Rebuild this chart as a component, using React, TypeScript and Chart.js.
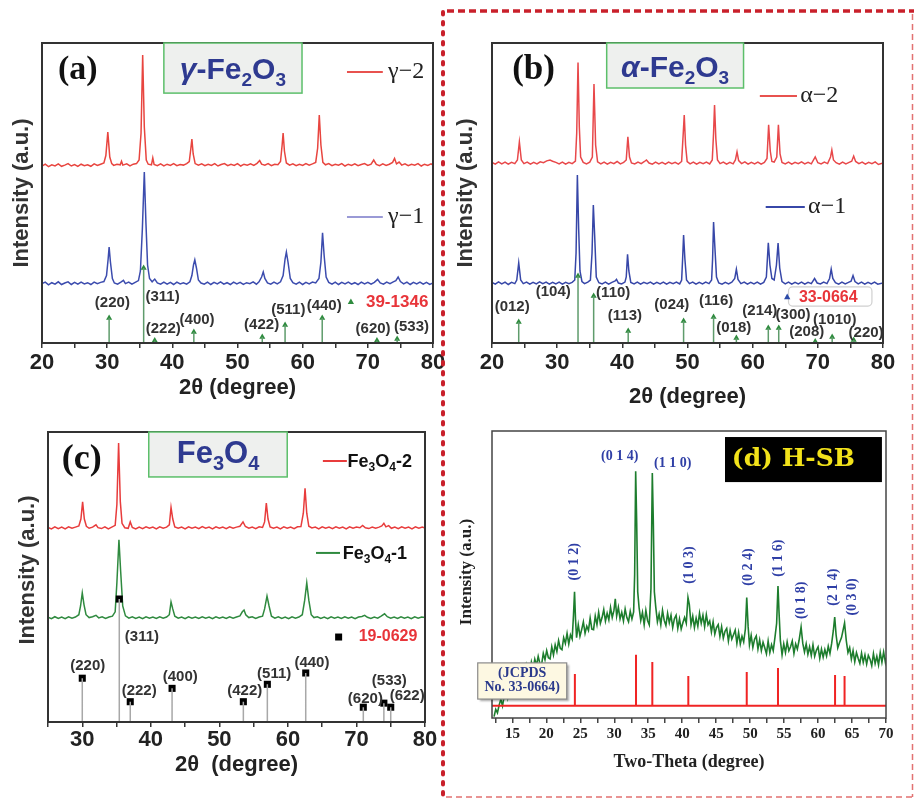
import React, { useEffect, useRef } from 'react';
import { Chart, registerables } from 'chart.js';
Chart.register(...registerables);

const W = 914;
const H = 798;
const XH = 30;
const SANS = '"Liberation Sans", Arial, sans-serif';
const SERIF = '"Liberation Serif", "Times New Roman", serif';
const DSERIF = '"DejaVu Serif", serif';

type P = [number, number];

// ---------------- Panel (a) gamma-Fe2O3 ----------------
const A_X_RANGE = [20, 80];
const A_TICKS = [20, 25, 30, 35, 40, 45, 50, 55, 60, 65, 70, 75, 80];
const A_GAMMA2: P[] = [[20,59],[20.5,59.6],[21,58.8],[21.5,59.4],[22,59],[22.5,59.7],[23,58.9],[23.5,59.3],[24,59.8],[24.5,59],[25,59.5],[25.5,58.9],[26,59.6],[26.5,59.1],[27,59.4],[27.5,58.9],[28,59.7],[28.5,59.2],[29,59.6],[29.5,60],[29.8,62.5],[30.1,70.3],[30.4,62],[30.7,59.8],[31,59.2],[31.5,59.6],[32,59.4],[32.2,60.6],[32.4,59.3],[33,59.7],[33.5,59],[34,59.6],[34.5,59.8],[34.9,61],[35.2,70],[35.45,96],[35.7,72],[36,61],[36.3,59.6],[36.8,59.4],[37,61.7],[37.2,59.5],[37.7,59.1],[38.2,59.7],[38.7,59],[39.2,59.6],[39.7,59.2],[40.2,59.8],[40.7,59.1],[41.2,59.5],[41.7,59.3],[42.2,59.8],[42.6,60.5],[42.85,65],[43,68],[43.2,63],[43.5,59.8],[44,59.3],[44.5,59.7],[45,59.1],[45.5,59.6],[46,59.2],[46.5,59.8],[47,59],[47.5,59.5],[48,59.8],[48.5,59.1],[49,59.6],[49.5,59.2],[50,59.8],[50.5,59],[51,59.6],[51.5,59.3],[52,59.7],[52.5,59.2],[53,59.9],[53.4,60.8],[53.7,59.6],[54.2,59.3],[54.7,59.8],[55.2,59.1],[55.7,59.6],[56.2,59.4],[56.6,60.5],[56.85,66],[57,70],[57.2,64],[57.5,60],[58,59.3],[58.5,59.7],[59,59.1],[59.5,59.6],[60,59.2],[60.5,59.8],[61,59.3],[61.5,59.7],[62,60.2],[62.3,65],[62.55,76],[62.8,66],[63.1,60.2],[63.5,59.4],[64,59.8],[64.5,59.1],[65,59.6],[65.5,59.3],[66,59.8],[66.5,59],[67,59.6],[67.5,59.2],[68,59.7],[68.5,59.1],[69,59.5],[69.5,59.8],[70,59.2],[70.5,59.6],[70.9,61],[71.3,59.5],[71.8,59.1],[72.3,59.7],[72.8,59.2],[73.3,59.6],[73.8,60.2],[74.1,61.5],[74.4,59.7],[74.8,60.3],[75.2,59.3],[75.7,59.7],[76.2,59.1],[76.7,59.6],[77.2,59.3],[77.7,59.8],[78.2,59],[78.7,59.6],[79.2,59.2],[79.7,59.7],[80,59.3]];
const A_GAMMA1: P[] = [[20,19.8],[20.5,20.3],[21,19.4],[21.5,20.1],[22,19.6],[22.5,20.4],[23,19.5],[23.5,20],[24,20.4],[24.5,19.5],[25,20.2],[25.5,19.6],[26,20.3],[26.5,19.7],[27,20.1],[27.5,19.5],[28,20.3],[28.5,19.8],[29,20.2],[29.5,20.5],[29.9,22.5],[30.15,28],[30.3,32],[30.5,27],[30.8,21.5],[31.1,20],[31.6,19.6],[32.1,20.3],[32.5,20.9],[32.8,19.8],[33.3,20.3],[33.8,19.6],[34.3,20.2],[34.8,20.8],[35.1,24],[35.4,38],[35.7,57],[35.95,40],[36.2,26],[36.5,21.5],[36.9,20.4],[37.3,21.3],[37.7,20],[38.2,19.6],[38.7,20.3],[39.2,19.6],[39.7,20.2],[40.2,19.5],[40.7,20.3],[41.2,19.7],[41.7,20.1],[42.2,19.6],[42.7,20.4],[43,22.5],[43.25,26],[43.45,27.7],[43.7,25],[44,21],[44.4,20],[44.9,19.6],[45.4,20.3],[45.9,19.5],[46.4,20.2],[46.9,19.7],[47.4,20.4],[47.9,19.6],[48.4,20.1],[48.9,19.5],[49.4,20.3],[49.9,19.7],[50.4,20.2],[50.9,19.5],[51.4,20.1],[51.9,19.8],[52.4,20.4],[52.9,19.6],[53.3,20.4],[53.7,22],[53.95,23.7],[54.2,21.5],[54.6,20],[55.1,19.6],[55.6,20.3],[56.1,19.7],[56.6,20.4],[57,22.5],[57.3,28],[57.5,30.3],[57.75,27],[58.1,21.5],[58.5,20.1],[59,19.6],[59.5,20.3],[60,19.5],[60.5,20.2],[61,19.7],[61.5,20.3],[62,20],[62.5,21.5],[62.8,27],[63.05,36.7],[63.3,29],[63.6,22],[64,20.2],[64.5,19.6],[65,20.3],[65.5,19.5],[66,20.2],[66.5,19.7],[67,20.3],[67.5,19.6],[68,20.1],[68.5,19.5],[69,20.3],[69.5,19.7],[70,20.2],[70.5,19.6],[71,20.2],[71.5,21.2],[71.9,20],[72.4,19.6],[72.9,20.3],[73.4,19.8],[73.9,20.4],[74.3,20.8],[74.65,22],[75,20.5],[75.5,19.7],[76,20.3],[76.5,19.5],[77,20.2],[77.5,19.7],[78,20.3],[78.5,19.6],[79,20.2],[79.5,19.5],[80,20]];
const A_REF_POS = [30.3, 35.6, 37.3, 43.3, 53.8, 57.3, 63.0, 71.4, 74.5];
const A_REF_INT = [8.3, 25, 0.8, 3.7, 2, 6, 8.3, 0.8, 1.3];
const A_HKL = ['(220)', '(311)', '(222)', '(400)', '(422)', '(511)', '(440)', '(620)', '(533)'];
const A_HKL_AT: P[] = [[30.8,13.3],[38.5,15.4],[38.6,4.7],[43.8,7.7],[53.7,6],[57.8,11],[63.3,12.3],[70.8,4.7],[76.7,5.3]];

// ---------------- Panel (b) alpha-Fe2O3 ----------------
const B_X_RANGE = [20, 80];
const B_TICKS = [20, 25, 30, 35, 40, 45, 50, 55, 60, 65, 70, 75, 80];
const B_ALPHA2: P[] = [[20,60.2],[20.5,59.6],[21,60.4],[21.5,59.7],[22,60.3],[22.5,59.6],[23,60.2],[23.5,59.8],[23.9,61],[24.2,67],[24.5,61],[24.9,59.8],[25.4,60.3],[25.9,59.6],[26.4,60.2],[26.9,59.7],[27.4,60.4],[27.9,60.1],[28.4,60.7],[28.9,61],[29.3,60.6],[29.8,60.2],[30.3,59.7],[30.8,60.3],[31.3,59.6],[31.8,60.2],[32.3,59.8],[32.8,60.6],[33,70],[33.2,93.5],[33.4,72],[33.6,62],[34,60.2],[34.5,59.7],[35,60.3],[35.4,62],[35.65,86.3],[35.9,66],[36.2,60.4],[36.7,59.7],[37.2,60.3],[37.7,59.6],[38.2,60.2],[38.7,59.8],[39.2,60.5],[39.7,59.7],[40.2,60.2],[40.6,61],[40.85,68.7],[41.1,62],[41.4,60],[41.9,59.7],[42.4,60.3],[42.9,59.8],[43.4,60.5],[43.7,61],[44.1,60],[44.6,59.6],[45.1,60.3],[45.6,59.7],[46.1,60.2],[46.6,59.6],[47.1,60.3],[47.6,59.8],[48.1,60.2],[48.6,59.6],[49.1,60.5],[49.35,70],[49.5,76],[49.7,66],[49.95,60.5],[50.4,59.7],[50.9,60.3],[51.4,59.6],[51.9,60.2],[52.4,59.8],[52.9,60.3],[53.4,59.7],[53.8,61],[54,70],[54.15,79.3],[54.35,68],[54.6,61],[55,59.8],[55.5,60.3],[56,59.6],[56.5,60.2],[57,59.7],[57.35,61],[57.6,63.7],[57.85,60.8],[58.3,59.8],[58.8,60.4],[59.3,59.6],[59.8,60.2],[60.3,59.7],[60.8,60.3],[61.3,59.6],[61.8,60.2],[62.2,61.5],[62.45,72.7],[62.7,64],[62.95,60.5],[63.3,60.3],[63.7,62],[63.95,72.7],[64.2,63],[64.5,60.2],[65,59.7],[65.5,60.3],[66,59.6],[66.5,60.2],[67,59.8],[67.5,60.4],[68,59.7],[68.5,60.2],[69,59.7],[69.6,62],[70,60.1],[70.5,59.7],[71,60.3],[71.5,59.8],[71.95,62],[72.15,64.3],[72.4,61],[72.8,60.1],[73.3,59.6],[73.8,60.3],[74.3,59.7],[74.8,60.2],[75.2,60.6],[75.5,62.3],[75.8,60.5],[76.3,59.8],[76.8,60.3],[77.3,59.6],[77.8,60.2],[78.3,59.8],[78.8,60.4],[79.3,59.5],[80,60]];
const B_ALPHA1: P[] = [[20,20.2],[20.5,19.6],[21,20.4],[21.5,19.7],[22,20.3],[22.5,19.5],[23,20.2],[23.5,19.8],[23.8,21],[24.1,26.7],[24.4,21],[24.8,19.8],[25.3,20.3],[25.8,19.6],[26.3,20.2],[26.8,19.7],[27.3,20.4],[27.8,19.8],[28.3,20.3],[28.8,19.6],[29.3,20.2],[29.8,19.7],[30.3,20.3],[30.8,19.6],[31.3,20.2],[31.8,19.8],[32.3,20.2],[32.7,21],[32.9,30],[33.1,56],[33.3,38],[33.5,24],[33.8,20.5],[34.2,19.8],[34.7,20.3],[35.1,21],[35.35,30],[35.55,46],[35.75,36],[36,22],[36.4,20.1],[36.9,19.7],[37.4,20.3],[37.9,19.6],[38.4,20.2],[38.9,20.7],[39.1,21.2],[39.4,20],[39.9,19.7],[40.4,20.3],[40.6,22],[40.8,29.6],[41,24],[41.3,20.2],[41.8,19.7],[42.3,20.3],[42.8,19.6],[43.3,20.2],[43.8,19.8],[44.3,20.3],[44.8,19.6],[45.3,20.2],[45.8,19.7],[46.3,20.3],[46.8,19.6],[47.3,20.2],[47.8,19.8],[48.3,20.3],[48.8,19.7],[49.1,21],[49.25,28],[49.4,36],[49.6,28],[49.85,21],[50.3,19.8],[50.8,20.3],[51.3,19.6],[51.8,20.2],[52.3,19.7],[52.8,20.3],[53.3,19.8],[53.7,21],[53.85,28],[54,40.3],[54.2,32],[54.45,22],[54.8,20],[55.3,19.6],[55.8,20.2],[56.3,19.7],[56.8,20.3],[57.25,21.5],[57.5,24.6],[57.75,21.2],[58.2,19.8],[58.7,20.3],[59.2,19.6],[59.7,20.2],[60.2,19.7],[60.7,20.3],[61.2,19.6],[61.7,20.2],[62.1,22],[62.4,33.4],[62.65,26],[62.95,21.5],[63.3,21],[63.65,26],[63.9,33.3],[64.15,25],[64.5,20.5],[65,19.7],[65.5,20.3],[66,19.6],[66.5,20.2],[67,19.7],[67.5,20.3],[68,19.6],[68.5,20.2],[69,19.8],[69.5,21.5],[69.9,20],[70.4,19.7],[70.9,20.3],[71.4,19.8],[71.8,21.5],[72.05,24.6],[72.3,21.5],[72.7,20.1],[73.2,19.6],[73.7,20.3],[74.2,19.7],[74.7,20.2],[75.1,20.6],[75.4,22.5],[75.7,20.5],[76.2,19.7],[76.7,20.3],[77.2,19.6],[77.7,20.2],[78.2,19.7],[78.7,20.3],[79.2,19.6],[80,20]];
const B_REF_POS = [24.1, 33.2, 35.6, 40.9, 49.4, 54.0, 57.5, 62.4, 64.0, 69.6, 72.2, 75.5];
const B_REF_INT = [7, 22.3, 15.7, 4, 7.3, 8.7, 1.7, 5, 5, 0.5, 2, 1];
const B_HKL = ['(012)', '(104)', '(110)', '(113)', '(024)', '(116)', '(018)', '(214)', '(300)', '(208)', '(1010)', '(220)'];
const B_HKL_AT: P[] = [[23.1,12],[29.4,17],[38.6,16.6],[40.4,9],[47.6,12.7],[54.4,14],[57.1,5],[61.1,10.7],[66.2,9.3],[68.3,3.7],[72.6,7.7],[77.4,3.3]];

// ---------------- Panel (c) Fe3O4 ----------------
const C_X_RANGE = [25, 80];
const C_TICKS = [25, 30, 35, 40, 45, 50, 55, 60, 65, 70, 75, 80];
const C_FE2: P[] = [[25,67.1],[25.5,66.6],[26,67.3],[26.5,66.7],[27,67.2],[27.5,66.6],[28,67.3],[28.5,66.8],[29,67.2],[29.5,67.6],[29.8,70],[30.05,75.9],[30.3,70],[30.6,67.5],[31,66.8],[31.5,67.2],[32,68],[32.3,67],[32.8,66.7],[33.3,67.3],[33.8,66.6],[34.3,67.2],[34.8,67.8],[35.05,75],[35.3,96.2],[35.55,76],[35.8,68.5],[36.2,67],[36.7,66.8],[37,69],[37.3,67.1],[37.8,66.6],[38.3,67.2],[38.8,66.7],[39.3,67.3],[39.8,66.8],[40.3,67.2],[40.8,66.6],[41.3,67.3],[41.8,66.8],[42.3,67.2],[42.7,68],[42.95,74],[43.2,70],[43.5,67.3],[44,66.8],[44.5,67.2],[45,66.6],[45.5,67.3],[46,66.8],[46.5,67.2],[47,66.7],[47.5,67.4],[48,66.8],[48.5,67.2],[49,66.6],[49.5,67.3],[50,66.8],[50.5,67.2],[51,66.7],[51.5,67.3],[52,66.8],[52.5,67.2],[53,67.5],[53.45,69],[53.8,67.4],[54.3,66.8],[54.8,67.2],[55.3,66.7],[55.8,67.3],[56.3,67.1],[56.6,69],[56.85,75.5],[57.1,70],[57.4,67.3],[57.9,66.8],[58.4,67.2],[58.9,66.6],[59.4,67.3],[59.9,66.8],[60.4,67.2],[60.9,66.7],[61.4,67.3],[61.9,67.4],[62.25,72],[62.5,80.6],[62.75,72],[63.05,67.5],[63.5,66.9],[64,67.2],[64.5,66.6],[65,67.3],[65.5,66.8],[66,67.2],[66.5,66.7],[67,67.3],[67.5,66.8],[68,67.2],[68.5,66.6],[69,67.3],[69.5,66.8],[70,67.2],[70.5,67],[70.9,67.8],[71.3,67],[71.8,66.7],[72.3,67.2],[72.8,66.8],[73.3,67.2],[73.7,67.6],[74,68.5],[74.3,67.3],[74.7,67.7],[75.1,66.8],[75.6,67.2],[76.1,66.7],[76.6,67.3],[77.1,66.8],[77.6,67.2],[78.1,66.6],[78.6,67.3],[79.1,66.8],[79.6,67.2],[80,66.9]];
const C_FE1: P[] = [[25,36.1],[25.5,35.6],[26,36.3],[26.5,35.7],[27,36.2],[27.5,35.6],[28,36.3],[28.5,35.8],[29,36.2],[29.5,37],[29.75,40],[30,44.5],[30.25,40.5],[30.55,37],[31,36],[31.5,36.3],[32,36.8],[32.4,35.9],[32.9,36.3],[33.4,35.7],[33.9,36.2],[34.4,36.5],[34.8,38],[35.05,48],[35.35,62.8],[35.6,52],[35.9,40],[36.3,36.6],[36.8,35.8],[37.3,36.3],[37.8,35.7],[38.3,36.2],[38.8,35.6],[39.3,36.3],[39.8,35.8],[40.3,36.2],[40.8,35.7],[41.3,36.3],[41.8,35.8],[42.3,36.2],[42.7,37],[42.95,41.4],[43.2,39],[43.5,36.5],[44,35.8],[44.5,36.2],[45,35.6],[45.5,36.3],[46,35.8],[46.5,36.2],[47,35.7],[47.5,36.3],[48,35.8],[48.5,36.2],[49,35.6],[49.5,36.3],[50,35.8],[50.5,36.2],[51,35.7],[51.5,36.3],[52,35.8],[52.5,36.2],[53,36.6],[53.35,38],[53.6,38.6],[53.85,37],[54.3,36],[54.8,36.3],[55.3,35.7],[55.8,36.2],[56.3,36.5],[56.6,39],[56.95,43.4],[57.25,40],[57.6,36.5],[58.1,35.8],[58.6,36.3],[59.1,35.7],[59.6,36.2],[60.1,35.6],[60.6,36.3],[61.1,35.8],[61.6,36.2],[62.1,37],[62.45,42],[62.75,48],[63.05,42],[63.4,37],[63.8,36],[64.3,36.3],[64.8,35.7],[65.3,36.2],[65.8,35.6],[66.3,36.3],[66.8,35.8],[67.3,36.2],[67.8,35.7],[68.3,36.3],[68.8,35.8],[69.3,36.2],[69.8,35.6],[70.3,36.2],[70.8,36.4],[71.2,36.8],[71.6,36.1],[72.1,35.7],[72.6,36.2],[73.1,35.8],[73.6,36.5],[74.1,37.3],[74.5,36.3],[75,35.8],[75.5,36.2],[76,35.7],[76.5,36.3],[77,35.8],[77.5,36.2],[78,35.6],[78.5,36.3],[79,35.8],[79.5,36.2],[80,36]];
const C_REF_POS = [30.0, 35.4, 37.0, 43.1, 53.5, 57.0, 62.6, 71.0, 74.0, 75.0];
const C_REF_INT = [15.1, 42.4, 7, 11.6, 7, 13, 16.9, 5.1, 6.5, 5.1];
const C_HKL = ['(220)', '(311)', '(222)', '(400)', '(422)', '(511)', '(440)', '(620)', '(533)', '(622)'];
const C_HKL_AT: P[] = [[30.8,19.3],[38.7,29.3],[38.3,10.7],[44.3,15.6],[53.7,10.7],[58,16.5],[63.5,20.3],[71.3,7.9],[74.8,14.1],[77.4,9]];

// ---------------- Panel (d) H-SB ----------------
const D_X_RANGE = [12, 70];
const D_TICKS = [12.5, 15, 17.5, 20, 22.5, 25, 27.5, 30, 32.5, 35, 37.5, 40, 42.5, 45, 47.5, 50, 52.5, 55, 57.5, 60, 62.5, 65, 67.5, 70];
const D_HSB: P[] = [[12.3,0.5],[12.55,3],[12.8,1.8],[13.05,4.5],[13.3,6.5],[13.55,4.2],[13.8,7.8],[14.05,9.5],[14.3,7],[14.55,11],[14.8,9.5],[15.05,10.2],[15.3,13.5],[15.55,11.5],[15.8,12.8],[16.05,15.8],[16.3,13],[16.55,16.5],[16.8,14.5],[17.05,18.5],[17.3,16.3],[17.55,15.5],[17.8,19.5],[18.05,17],[18.3,20.5],[18.55,18.3],[18.8,21.5],[19.05,19],[19.3,18.6],[19.55,22.5],[19.8,20.3],[20.05,23.5],[20.3,21],[20.55,20.6],[20.8,24.8],[21.05,22],[21.3,25.5],[21.55,23.2],[21.8,27],[22.05,24.3],[22.3,23.8],[22.55,28],[22.8,26],[23.05,29.5],[23.3,25.8],[23.55,29],[23.8,27.5],[24,36],[24.15,44],[24.3,34],[24.45,28],[24.7,32.5],[24.95,28.5],[25.2,30.8],[25.45,33.5],[25.7,29.5],[25.95,32],[26.2,30.5],[26.45,34.8],[26.7,31],[26.95,30.8],[27.2,35.5],[27.45,32.5],[27.7,36.8],[27.95,33],[28.2,35],[28.45,37.8],[28.7,33.8],[28.95,36.5],[29.2,34.2],[29.45,38.5],[29.7,35],[29.95,37.5],[30.15,41.5],[30.35,35.5],[30.6,38.6],[30.85,34.5],[31.1,36.8],[31.35,33.8],[31.6,38],[31.85,35],[32.1,33.5],[32.35,37.2],[32.6,34.5],[32.85,37],[33,50],[33.15,86],[33.3,68],[33.45,44],[33.65,38.5],[33.9,34],[34.15,36.8],[34.4,32.5],[34.65,37.5],[34.9,34],[35.15,32.5],[35.4,45],[35.6,85.4],[35.75,68],[35.9,44],[36.1,38.8],[36.35,33.5],[36.6,36.2],[36.85,32.5],[37.1,37.5],[37.35,34],[37.6,32.2],[37.85,36.5],[38.1,33.2],[38.35,35.8],[38.6,31.5],[38.85,34.6],[39.1,35.8],[39.35,31.2],[39.6,34.5],[39.85,31],[40.1,33.2],[40.35,35],[40.6,33],[40.85,42],[41.05,39.5],[41.3,32.5],[41.55,35.5],[41.8,31.5],[42.05,34.8],[42.3,32],[42.55,36.5],[42.8,33],[43.05,35.8],[43.3,31.8],[43.55,36],[43.8,32.5],[44.05,33.8],[44.3,30],[44.55,33.5],[44.8,29.2],[45.05,31.5],[45.3,32.5],[45.55,28.4],[45.8,31.8],[46.05,27.8],[46.3,30.2],[46.55,31.2],[46.8,26.8],[47.05,30.5],[47.3,27.5],[47.55,29],[47.8,30.6],[48.05,26],[48.3,29.8],[48.55,25.8],[48.8,28.5],[49.05,26.5],[49.3,31],[49.5,42],[49.7,32],[49.9,25.5],[50.15,28.8],[50.4,24.6],[50.65,27.4],[50.9,28.6],[51.15,24],[51.4,27.2],[51.65,23.5],[51.9,26.4],[52.15,24.5],[52.4,22.4],[52.65,26.8],[52.9,22.8],[53.15,25.5],[53.4,23.5],[53.65,28],[53.9,33],[54.1,46],[54.25,37],[54.45,27],[54.7,22],[54.95,25.8],[55.2,22.8],[55.45,26.5],[55.7,23.4],[55.95,24.8],[56.2,26.8],[56.45,22.5],[56.7,25.8],[56.95,24],[57.2,27],[57.5,31.7],[57.75,26],[58,23],[58.25,25.8],[58.5,22.2],[58.75,24.8],[59,21.8],[59.25,25.5],[59.5,21.5],[59.75,23.6],[60,24.8],[60.25,20.8],[60.5,24],[60.75,21.2],[61,23.8],[61.25,21.6],[61.5,25],[61.75,22.5],[62,26],[62.25,30.5],[62.45,35.2],[62.65,29],[62.9,24.4],[63.15,26.2],[63.45,28],[63.9,33.1],[64.15,27],[64.4,22.8],[64.65,24.5],[64.9,20.5],[65.15,23.5],[65.4,19.6],[65.65,22.8],[65.9,20.8],[66.15,19],[66.4,22.6],[66.65,19.4],[66.9,22],[67.15,18.8],[67.4,21.8],[67.65,20.5],[67.9,18.2],[68.15,22.4],[68.4,19],[68.65,21.5],[68.9,18.5],[69.15,22.8],[69.4,19.4],[69.65,23],[69.9,19.5],[70,21]];
const D_REF_BASE = 4.3;
const D_REF_POS = [24.2, 33.2, 35.6, 40.9, 49.5, 54.1, 62.5, 63.9];
const D_REF_INT = [15.3, 22, 19.5, 14.6, 16, 17.4, 15, 14.6];
const D_HKL = ['(0 1 2)', '(0 1 4)', '(1 1 0)', '(1 0 3)', '(0 2 4)', '(1 1 6)', '(0 1 8)', '(2 1 4)', '(0 3 0)'];
const D_HKL_AT: P[] = [[24.1,54.4],[30.8,91.3],[38.6,88.8],[41,53.3],[49.7,52.6],[54.1,55.7],[57.6,41],[62.3,45.6],[65.1,42.2]];
const D_HKL_ROT = [true, false, false, true, true, true, true, true, true];

// ---------------- helpers ----------------
const pts = (arr: P[]) => arr.map(([x, y]) => ({ x, y }));
const stickPts = (pos: number[], ints: number[]) =>
  pos.flatMap((p, i) => [{ x: p, y: 0 }, { x: p, y: ints[i] }, { x: p, y: null }]);
const markPts = (pos: number[], ints: number[]) => pos.map((p, i) => ({ x: p, y: ints[i] }));
const combPts = (pos: number[], ints: number[], base: number, x0: number, x1: number) => [
  { x: x0, y: base },
  ...pos.flatMap((p, i) => [{ x: p, y: base }, { x: p, y: ints[i] }, { x: p, y: base }]),
  { x: x1, y: base },
];

const lineDs = (label: string, data: any[], color: string, width = 1.5) => ({
  type: 'line', label, data, borderColor: color, backgroundColor: color, borderWidth: width,
  pointRadius: 0, tension: 0, fill: false, spanGaps: false,
});
const markDs = (data: any[], color: string, style: string, r: number) => ({
  type: 'line', label: '', data, showLine: false, pointStyle: style, pointRadius: r,
  pointBackgroundColor: color, pointBorderColor: color, pointBorderWidth: 0, borderWidth: 0,
});

function text(ctx: any, s: string, x: number, y: number, font: string, color: string, align = 'center', rot = 0) {
  ctx.save();
  ctx.translate(x, y);
  if (rot) ctx.rotate(rot);
  ctx.font = font;
  ctx.fillStyle = color;
  ctx.textAlign = align;
  ctx.textBaseline = 'middle';
  ctx.fillText(s, 0, 0);
  ctx.restore();
}

type Part = { t: string; s?: boolean; i?: boolean };
function rich(ctx: any, parts: Part[], x: number, baseY: number, size: number, fam: string, color: string, align = 'center', weight = 'bold') {
  const f = (p: Part) => `${p.i ? 'italic ' : ''}${weight} ${p.s ? Math.round(size * 0.64) : size}px ${fam}`;
  ctx.save();
  let total = 0;
  for (const p of parts) { ctx.font = f(p); total += ctx.measureText(p.t).width; }
  let cx = align === 'center' ? x - total / 2 : x;
  ctx.fillStyle = color;
  ctx.textAlign = 'left';
  ctx.textBaseline = 'alphabetic';
  for (const p of parts) {
    ctx.font = f(p);
    ctx.fillText(p.t, cx, baseY + (p.s ? size * 0.22 : 0));
    cx += ctx.measureText(p.t).width;
  }
  ctx.restore();
}

function frame(c: any, color: string, lw: number) {
  const { left, top, right, bottom } = c.chartArea;
  const ctx = c.ctx;
  ctx.save();
  ctx.strokeStyle = color;
  ctx.lineWidth = lw;
  ctx.strokeRect(left, top, right - left, bottom - top);
  ctx.restore();
}

function rect(ctx: any, x0: number, y0: number, x1: number, y1: number, fill: string, stroke: string, lw: number, shadow = false) {
  ctx.save();
  if (shadow) {
    ctx.shadowColor = 'rgba(0,0,0,0.35)';
    ctx.shadowOffsetX = 2;
    ctx.shadowOffsetY = 2;
    ctx.shadowBlur = 2;
  }
  ctx.fillStyle = fill;
  ctx.fillRect(x0, y0, x1 - x0, y1 - y0);
  ctx.restore();
  if (stroke) {
    ctx.save();
    ctx.strokeStyle = stroke;
    ctx.lineWidth = lw;
    ctx.strokeRect(x0, y0, x1 - x0, y1 - y0);
    ctx.restore();
  }
}

function hline(ctx: any, x0: number, x1: number, y: number, color: string, lw: number) {
  ctx.save();
  ctx.strokeStyle = color;
  ctx.lineWidth = lw;
  ctx.beginPath();
  ctx.moveTo(x0, y);
  ctx.lineTo(x1, y);
  ctx.stroke();
  ctx.restore();
}

function tri(ctx: any, x: number, y: number, r: number, color: string) {
  ctx.save();
  ctx.fillStyle = color;
  ctx.beginPath();
  ctx.moveTo(x, y - r);
  ctx.lineTo(x + r * 0.9, y + r * 0.6);
  ctx.lineTo(x - r * 0.9, y + r * 0.6);
  ctx.closePath();
  ctx.fill();
  ctx.restore();
}

function axisTitles(c: any, xt: string, xFont: string, xDy: number, yt: string, yFont: string, yDx: number, yCy: number | null, color: string, yColor: string) {
  const { left, right, top, bottom } = c.chartArea;
  text(c.ctx, xt, (left + right) / 2, bottom + xDy, xFont, color);
  text(c.ctx, yt, left + yDx, yCy ?? (top + bottom) / 2, yFont, yColor, 'center', -Math.PI / 2);
}

function redBorder(ctx: any) {
  ctx.save();
  ctx.strokeStyle = '#c9202b';
  ctx.lineWidth = 4;
  ctx.lineCap = 'round';
  ctx.setLineDash([2.5, 7.5]);
  ctx.beginPath();
  ctx.moveTo(443, 12);
  ctx.lineTo(443, 798);
  ctx.stroke();
  ctx.lineCap = 'butt';
  ctx.lineWidth = 3.5;
  ctx.setLineDash([7, 4]);
  ctx.beginPath();
  ctx.moveTo(447, 11);
  ctx.lineTo(914, 11);
  ctx.stroke();
  ctx.strokeStyle = '#e27272';
  ctx.lineWidth = 1.5;
  ctx.setLineDash([6, 4]);
  ctx.beginPath();
  ctx.moveTo(912.5, 14);
  ctx.lineTo(912.5, 797);
  ctx.moveTo(446, 797);
  ctx.lineTo(912.5, 797);
  ctx.stroke();
  ctx.restore();
}

const XY = (c: any) => ({
  X: (v: number) => c.scales.x.getPixelForValue(v),
  Y: (u: number) => c.scales.y.getPixelForValue(u),
});

// ---------------- panel definitions ----------------
const STICK_GREEN = '#5f9c6c';
const MARK_GREEN = '#2e8b3e';
const RED_TXT = '#e8353a';
const SUB_FONT = `bold 15px ${SANS}`;

const PANELS = [
  {
    key: 'a',
    area: [42, 43, 433, 343],
    xRange: A_X_RANGE,
    ticks: A_TICKS,
    labelEvery: 10,
    tickFont: { family: SANS, size: 22, weight: 'bold' },
    tickColor: '#222',
    tickPad: 2,
    frameColor: '#333',
    datasets: [
      lineDs('', stickPts(A_REF_POS, A_REF_INT), STICK_GREEN, 1.5),
      markDs(markPts(A_REF_POS, A_REF_INT), MARK_GREEN, 'triangle', 3.5),
      lineDs('γ−2', pts(A_GAMMA2), '#e8453f', 1.5),
      lineDs('γ−1', pts(A_GAMMA1), '#3c4cae', 1.5),
    ],
    decorate: (c: any) => {
      const ctx = c.ctx;
      const { X, Y } = XY(c);
      frame(c, '#333', 2);
      text(ctx, '(a)', X(22.45), Y(91), `bold 34px ${SERIF}`, '#111', 'left');
      rect(ctx, X(38.7), Y(100), X(59.9), Y(83.3), '#eef0ee', '#5cbf6a', 1.5);
      rich(ctx, [{ t: 'γ', i: true }, { t: '-Fe' }, { t: '2', s: true }, { t: 'O' }, { t: '3', s: true }], X(49.3), Y(88), 30, SANS, '#2e3a90');
      hline(ctx, X(66.8), X(72.3), Y(90.3), '#e8524f', 2);
      text(ctx, c.data.datasets[2].label, X(73.1), Y(90.3), `24px ${SERIF}`, '#222', 'left');
      hline(ctx, X(66.8), X(72.3), Y(42), '#9a9ad6', 2);
      text(ctx, c.data.datasets[3].label, X(73.1), Y(42), `24px ${SERIF}`, '#222', 'left');
      tri(ctx, X(67.4), Y(13.7), 3.5, MARK_GREEN);
      text(ctx, '39-1346', X(74.5), Y(13.7), `bold 17px ${SANS}`, RED_TXT);
      A_HKL.forEach((s, i) => text(ctx, s, X(A_HKL_AT[i][0]), Y(A_HKL_AT[i][1]), SUB_FONT, '#333'));
      axisTitles(c, '2θ (degree)', `bold 22px ${SANS}`, 45, 'Intensity (a.u.)', `bold 22px ${SANS}`, -20, null, '#222', '#333');
    },
  },
  {
    key: 'b',
    area: [492, 43, 883, 343],
    xRange: B_X_RANGE,
    ticks: B_TICKS,
    labelEvery: 10,
    tickFont: { family: SANS, size: 22, weight: 'bold' },
    tickColor: '#222',
    tickPad: 2,
    frameColor: '#333',
    datasets: [
      lineDs('', stickPts(B_REF_POS, B_REF_INT), STICK_GREEN, 1.5),
      markDs(markPts(B_REF_POS, B_REF_INT), MARK_GREEN, 'triangle', 3.5),
      lineDs('α−2', pts(B_ALPHA2), '#e8484a', 1.5),
      lineDs('α−1', pts(B_ALPHA1), '#3747a8', 1.5),
    ],
    decorate: (c: any) => {
      const ctx = c.ctx;
      const { X, Y } = XY(c);
      frame(c, '#333', 2);
      text(ctx, '(b)', X(23.1), Y(91), `bold 35px ${SERIF}`, '#111', 'left');
      rect(ctx, X(37.6), Y(100), X(58.6), Y(85), '#eef0ee', '#5cbf6a', 1.5);
      rich(ctx, [{ t: 'α', i: true }, { t: '-Fe' }, { t: '2', s: true }, { t: 'O' }, { t: '3', s: true }], X(48.1), Y(88.7), 30, SANS, '#2e3a90');
      hline(ctx, X(61.1), X(66.8), Y(82.3), '#e8524f', 2);
      text(ctx, c.data.datasets[2].label, X(67.3), Y(82.3), `24px ${SERIF}`, '#222', 'left');
      hline(ctx, X(62), X(68), Y(45.3), '#3747a8', 2);
      text(ctx, c.data.datasets[3].label, X(68.5), Y(45.3), `24px ${SERIF}`, '#222', 'left');
      ctx.save();
      ctx.strokeStyle = '#d0d0d0';
      ctx.lineWidth = 1.2;
      ctx.fillStyle = '#fff';
      ctx.beginPath();
      ctx.roundRect(X(65.5), Y(18.7), X(78.3) - X(65.5), Y(12.3) - Y(18.7), 4);
      ctx.fill();
      ctx.stroke();
      ctx.restore();
      tri(ctx, X(65.3), Y(15.3), 3.5, '#2b4aa8');
      text(ctx, '33-0664', X(71.6), Y(15.3), `bold 16px ${SANS}`, RED_TXT);
      B_HKL.forEach((s, i) => text(ctx, s, X(B_HKL_AT[i][0]), Y(B_HKL_AT[i][1]), SUB_FONT, '#333'));
      axisTitles(c, '2θ (degree)', `bold 22px ${SANS}`, 54, 'Intensity (a.u.)', `bold 22px ${SANS}`, -26, null, '#222', '#333');
    },
  },
  {
    key: 'c',
    area: [48, 432, 425, 722],
    xRange: C_X_RANGE,
    ticks: C_TICKS,
    labelEvery: 10,
    tickFont: { family: SANS, size: 22, weight: 'bold' },
    tickColor: '#222',
    tickPad: 0,
    frameColor: '#333',
    datasets: [
      lineDs('', stickPts(C_REF_POS, C_REF_INT), '#a8a8a8', 1.5),
      markDs(markPts(C_REF_POS, C_REF_INT), '#000', 'rect', 5),
      lineDs('Fe3O4-2', pts(C_FE2), '#e83c3c', 1.5),
      lineDs('Fe3O4-1', pts(C_FE1), '#2f8a3f', 1.5),
    ],
    decorate: (c: any) => {
      const ctx = c.ctx;
      const { X, Y } = XY(c);
      frame(c, '#333', 2);
      text(ctx, '(c)', X(27), Y(90.3), `bold 36px ${SERIF}`, '#111', 'left');
      rect(ctx, X(39.7), Y(100), X(59.9), Y(84.5), '#eef0ee', '#5cbf6a', 1.5);
      rich(ctx, [{ t: 'Fe' }, { t: '3', s: true }, { t: 'O' }, { t: '4', s: true }], X(49.8), Y(89.3), 31, SANS, '#2e3a90');
      hline(ctx, X(65.1), X(68.6), Y(90), '#e83c3c', 2);
      rich(ctx, [{ t: 'Fe' }, { t: '3', s: true }, { t: 'O' }, { t: '4', s: true }, { t: '-2' }], X(68.7), Y(90) + 6, 18, SANS, '#111', 'left');
      hline(ctx, X(64.1), X(67.6), Y(58.3), '#2f8a3f', 2);
      rich(ctx, [{ t: 'Fe' }, { t: '3', s: true }, { t: 'O' }, { t: '4', s: true }, { t: '-1' }], X(68.0), Y(58.3) + 6, 18, SANS, '#111', 'left');
      ctx.save();
      ctx.fillStyle = '#000';
      ctx.fillRect(X(67.4) - 3.5, Y(29.3) - 3.5, 7, 7);
      ctx.restore();
      text(ctx, '19-0629', X(74.6), Y(29.3), `bold 16px ${SANS}`, RED_TXT);
      C_HKL.forEach((s, i) => text(ctx, s, X(C_HKL_AT[i][0]), Y(C_HKL_AT[i][1]), SUB_FONT, '#333'));
      axisTitles(c, '2θ  (degree)', `bold 22px ${SANS}`, 43, 'Intensity (a.u.)', `bold 22px ${SANS}`, -20, 570, '#222', '#333');
    },
  },
  {
    key: 'd',
    area: [492, 431, 886, 718],
    xRange: D_X_RANGE,
    ticks: D_TICKS,
    labelEvery: 5,
    tickFont: { family: SERIF, size: 15, weight: 'bold' },
    tickColor: '#222',
    tickPad: 2,
    frameColor: '#444',
    datasets: [
      lineDs('JCPDS No. 33-0664', combPts(D_REF_POS, D_REF_INT, D_REF_BASE, D_X_RANGE[0], D_X_RANGE[1]), '#f02424', 2),
      lineDs('H-SB', pts(D_HSB), '#1d7d2d', 1.6),
    ],
    decorate: (c: any) => {
      const ctx = c.ctx;
      const { X, Y } = XY(c);
      frame(c, '#444', 1.5);
      rect(ctx, X(46.3), Y(97.9), X(69.4), Y(82.2), '#000', '', 0);
      text(ctx, '(d) H-SB', X(47.3), Y(90.2), `bold 25px ${DSERIF}`, '#f2e21a', 'left');
      rect(ctx, X(9.9), Y(19.2), X(23), Y(6.6), '#fdf8e2', '#8a8a8a', 1.2, true);
      text(ctx, '(JCPDS', X(16.45), Y(15.7), `bold 14px ${SERIF}`, '#2b3a8c');
      text(ctx, 'No. 33-0664)', X(16.45), Y(10.5), `bold 14px ${SERIF}`, '#2b3a8c');
      D_HKL.forEach((s, i) =>
        text(ctx, s, X(D_HKL_AT[i][0]), Y(D_HKL_AT[i][1]), `bold 14px ${SERIF}`, '#2f3fa6', 'center', D_HKL_ROT[i] ? -Math.PI / 2 : 0)
      );
      axisTitles(c, 'Two-Theta (degree)', `bold 18px ${SERIF}`, 44, 'Intensity (a.u.)', `bold 17px ${SERIF}`, -25, 572, '#222', '#222');
      redBorder(ctx);
    },
  },
];

function makeConfig(def: any) {
  const [l, t, r, b] = def.area;
  const every = def.labelEvery;
  return {
    type: 'line',
    data: { datasets: def.datasets },
    options: {
      responsive: false,
      animation: false,
      events: [],
      layout: { padding: { left: l, top: t, right: W - r, bottom: H - b - XH } },
      plugins: { legend: { display: false }, tooltip: { enabled: false }, title: { display: false } },
      scales: {
        x: {
          type: 'linear',
          min: def.xRange[0],
          max: def.xRange[1],
          afterFit: (s: any) => { s.height = XH; },
          afterBuildTicks: (s: any) => { s.ticks = def.ticks.map((v: number) => ({ value: v })); },
          ticks: {
            autoSkip: false,
            maxRotation: 0,
            minRotation: 0,
            font: def.tickFont,
            color: def.tickColor,
            padding: def.tickPad,
            callback: (v: number) => (Math.abs(v / every - Math.round(v / every)) < 1e-6 ? String(v) : ''),
          },
          grid: { display: true, drawOnChartArea: false, drawTicks: true, tickLength: 5, color: def.frameColor, lineWidth: 1.5 },
          border: { display: false },
        },
        y: { type: 'linear', display: false, min: 0, max: 100 },
      },
    },
    plugins: [{ id: 'deco_' + def.key, afterDraw: (c: any) => def.decorate(c) }],
  };
}

function PanelChart({ def }: { def: any }) {
  const ref = useRef<HTMLCanvasElement>(null);
  useEffect(() => {
    const chart = new Chart(ref.current as HTMLCanvasElement, makeConfig(def) as any);
    return () => chart.destroy();
  }, [def]);
  return <canvas ref={ref} width={W} height={H} style={{ position: 'absolute', left: 0, top: 0, width: W, height: H }} />;
}

export default function App() {
  useEffect(() => {
    document.body.style.margin = '0';
    document.body.style.background = '#fff';
  }, []);
  return (
    <div style={{ position: 'relative', width: W, height: H, background: '#fff', overflow: 'hidden' }}>
      {PANELS.map((p) => (
        <PanelChart key={p.key} def={p} />
      ))}
    </div>
  );
}
